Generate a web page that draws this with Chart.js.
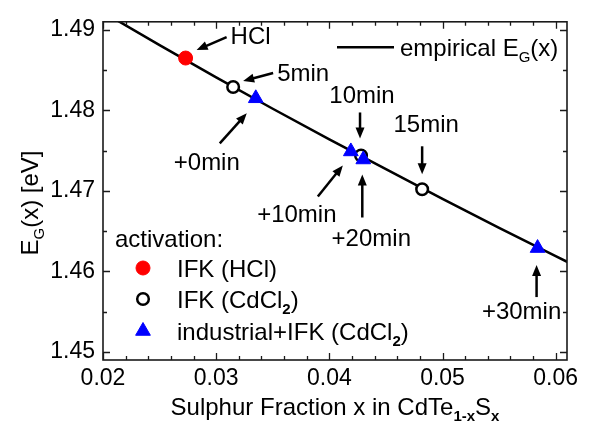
<!DOCTYPE html>
<html>
<head>
<meta charset="utf-8">
<script src="https://cdn.jsdelivr.net/npm/chart.js@4.4.1/dist/chart.umd.min.js"></script>
<style>
  html, body { margin: 0; padding: 0; background: #fff; }
  #wrap { width: 589px; height: 428px; }
</style>
</head>
<body>
<div id="wrap"><canvas id="chart"></canvas></div>
<script>
// curva empírica E_G(x)
const lineX = [0.020, 0.025, 0.030, 0.035, 0.040, 0.045, 0.050, 0.055, 0.060, 0.062];
const lineY = [1.4922, 1.4881, 1.4841, 1.4802, 1.4764, 1.4727, 1.4690, 1.4654, 1.4619, 1.4605];

// IFK (HCl)
const hclX = [0.0273];
const hclY = [1.4865];
// IFK (CdCl2): 5, 10, 15 min
const cdX = [0.0315, 0.0428, 0.0482];
const cdY = [1.4829, 1.4744, 1.4702];
// industrial + IFK (CdCl2): +0, +10, +20, +30 min
const indX = [0.0335, 0.0419, 0.0430, 0.0584];
const indY = [1.4815, 1.4749, 1.4739, 1.4629];

// etiquetas de los ejes
const xTicks = [0.02, 0.03, 0.04, 0.05, 0.06];
const yTicks = [1.45, 1.46, 1.47, 1.48, 1.49];

const FONT = '"Liberation Sans", Arial, sans-serif';

const toPts = (xs, ys) => xs.map((x, i) => ({ x: x, y: ys[i] }));

// anotaciones: texto y flecha, desplazamientos en px respecto al punto
const notes = [
    { ds: 0, i: 0, text: 'HCl',    t: [65, -21],  from: [41, -21],  to: [11, -8] },
    { ds: 1, i: 0, text: '5min',   t: [70, -13],  from: [40, -14],  to: [10, -6] },
    { ds: 2, i: 0, text: '+0min',  t: [-49, 65],  from: [-36, 45],  to: [-9, 15] },
    { ds: 1, i: 1, text: '10min',  t: [1, -59],   from: [-1, -43],  to: [-1, -17] },
    { ds: 2, i: 1, text: '+10min', t: [-54, 64],  from: [-33, 45],  to: [-8, 14] },
    { ds: 2, i: 2, text: '+20min', t: [8, 80],    from: [-1, 58],   to: [-1, 15] },
    { ds: 1, i: 2, text: '15min',  t: [4, -64],   from: [0, -43],   to: [0, -15] },
    { ds: 2, i: 3, text: '+30min', t: [-16, 64],  from: [-1, 49],   to: [-1, 17] }
];

// texto con subíndices
function drawRuns(ctx, runs, x, y, align, size) {
    const subSize = Math.round(size * 0.62);
    let total = 0;
    runs.forEach(r => {
        ctx.font = r.sub ? (r.bold ? 'bold ' : '') + subSize + 'px ' + FONT : size + 'px ' + FONT;
        r.w = ctx.measureText(r.t).width;
        total += r.w;
    });
    let cx = align === 'center' ? x - total / 2 : x;
    ctx.textAlign = 'left';
    ctx.textBaseline = 'alphabetic';
    runs.forEach(r => {
        ctx.font = r.sub ? (r.bold ? 'bold ' : '') + subSize + 'px ' + FONT : size + 'px ' + FONT;
        ctx.fillText(r.t, cx, r.sub ? y + size * 0.27 : y);
        cx += r.w;
    });
}

function arrow(ctx, x0, y0, x1, y1) {
    const a = Math.atan2(y1 - y0, x1 - x0);
    const hl = 11, hw = 4.5;
    ctx.beginPath();
    ctx.moveTo(x0, y0);
    ctx.lineTo(x1 - Math.cos(a) * hl * 0.8, y1 - Math.sin(a) * hl * 0.8);
    ctx.stroke();
    ctx.beginPath();
    ctx.moveTo(x1, y1);
    ctx.lineTo(x1 - Math.cos(a) * hl - Math.sin(a) * hw, y1 - Math.sin(a) * hl + Math.cos(a) * hw);
    ctx.lineTo(x1 - Math.cos(a) * hl + Math.sin(a) * hw, y1 - Math.sin(a) * hl - Math.cos(a) * hw);
    ctx.closePath();
    ctx.fill();
}

const decorPlugin = {
    id: 'decor',
    afterDatasetsDraw(chart) {
        const ctx = chart.ctx;
        const area = chart.chartArea;
        const xs = chart.scales.x, ys = chart.scales.y;
        ctx.save();

        // marco
        ctx.strokeStyle = '#1a1a1a';
        ctx.lineWidth = 1.6;
        ctx.strokeRect(area.left, area.top, area.right - area.left, area.bottom - area.top);

        // marcas hacia dentro, en los cuatro lados
        ctx.lineWidth = 1.3;
        ctx.beginPath();
        for (let k = 0; k <= 20; k++) {
            const v = 0.02 + k * 0.002;
            if (v > xs.max + 1e-9) break;
            const px = Math.round(xs.getPixelForValue(v)) + 0.5;
            const len = k % 5 === 0 ? 7 : 4;
            ctx.moveTo(px, area.bottom); ctx.lineTo(px, area.bottom - len);
            ctx.moveTo(px, area.top); ctx.lineTo(px, area.top + len);
        }
        for (let k = 0; k <= 10; k++) {
            const v = 1.45 + k * 0.005;
            if (v > ys.max + 1e-9) break;
            const py = Math.round(ys.getPixelForValue(v)) + 0.5;
            const len = k % 2 === 0 ? 7 : 4;
            ctx.moveTo(area.left, py); ctx.lineTo(area.left + len, py);
            ctx.moveTo(area.right, py); ctx.lineTo(area.right - len, py);
        }
        ctx.stroke();

        // flechas y textos
        ctx.fillStyle = '#000';
        ctx.strokeStyle = '#000';
        ctx.lineWidth = 2.5;
        notes.forEach(n => {
            const el = chart.getDatasetMeta(n.ds).data[n.i];
            arrow(ctx, el.x + n.from[0], el.y + n.from[1], el.x + n.to[0], el.y + n.to[1]);
            ctx.font = '24px ' + FONT;
            ctx.textAlign = 'center';
            ctx.textBaseline = 'middle';
            ctx.fillText(n.text, el.x + n.t[0], el.y + n.t[1]);
        });

        // leyenda de la curva
        ctx.lineWidth = 2.5;
        ctx.beginPath();
        ctx.moveTo(area.left + 234, area.top + 25.5);
        ctx.lineTo(area.left + 291, area.top + 25.5);
        ctx.stroke();
        drawRuns(ctx, [{ t: 'empirical E' }, { t: 'G', sub: true }, { t: '(x)' }],
            area.left + 297, area.top + 34, 'left', 24);

        // leyenda de activación
        const lx = area.left + 12, mx = area.left + 40, tx = area.left + 74;
        ctx.fillStyle = '#000';
        ctx.font = '24px ' + FONT;
        ctx.textAlign = 'left';
        ctx.textBaseline = 'middle';
        ctx.fillText('activation:', lx, 240);
        const rows = [
            { ds: 0, y: 268, runs: [{ t: 'IFK (HCl)' }] },
            { ds: 1, y: 299, runs: [{ t: 'IFK (CdCl' }, { t: '2', sub: true, bold: true }, { t: ')' }] },
            { ds: 2, y: 331, runs: [{ t: 'industrial+IFK (CdCl' }, { t: '2', sub: true, bold: true }, { t: ')' }] }
        ];
        rows.forEach(r => {
            const d = chart.data.datasets[r.ds];
            ctx.fillStyle = d.backgroundColor;
            ctx.strokeStyle = d.borderColor;
            ctx.lineWidth = d.borderWidth;
            Chart.helpers.drawPoint(ctx, { pointStyle: d.pointStyle, radius: d.pointRadius, borderWidth: d.borderWidth }, mx, r.y);
            ctx.fillStyle = '#000';
            drawRuns(ctx, r.runs, tx, r.y + 8.5, 'left', 24);
        });

        // títulos de los ejes
        ctx.fillStyle = '#000';
        drawRuns(ctx, [{ t: 'Sulphur Fraction x in CdTe' }, { t: '1-x', sub: true, bold: true },
            { t: 'S' }, { t: 'x', sub: true, bold: true }], (area.left + area.right) / 2, 415, 'center', 24);
        ctx.save();
        ctx.translate(38, 203);
        ctx.rotate(-Math.PI / 2);
        drawRuns(ctx, [{ t: 'E' }, { t: 'G', sub: true }, { t: '(x) [eV]' }], 0, 0, 'center', 24);
        ctx.restore();

        ctx.restore();
    }
};

const ctx = document.getElementById('chart').getContext('2d');
new Chart(ctx, {
    type: 'scatter',
    data: {
        datasets: [
            {
                label: 'IFK (HCl)',
                data: toPts(hclX, hclY),
                pointStyle: 'circle',
                pointRadius: 7,
                backgroundColor: '#ff0000',
                borderColor: '#ff0000',
                borderWidth: 1,
                order: 1
            },
            {
                label: 'IFK (CdCl2)',
                data: toPts(cdX, cdY),
                pointStyle: 'circle',
                pointRadius: 5.8,
                backgroundColor: '#ffffff',
                borderColor: '#000000',
                borderWidth: 2.5,
                order: 1
            },
            {
                label: 'industrial+IFK (CdCl2)',
                data: toPts(indX, indY),
                pointStyle: 'triangle',
                pointRadius: 8.5,
                backgroundColor: '#0000ff',
                borderColor: '#0000ff',
                borderWidth: 1,
                order: 0
            },
            {
                type: 'line',
                label: 'empirical EG(x)',
                data: toPts(lineX, lineY),
                borderColor: '#000',
                borderWidth: 2.5,
                pointRadius: 0,
                fill: false,
                tension: 0,
                order: 5
            }
        ]
    },
    options: {
        responsive: true,
        maintainAspectRatio: false,
        animation: false,
        events: [],
        layout: { padding: { left: 0, top: 9, right: 22, bottom: 0 } },
        plugins: {
            legend: { display: false },
            tooltip: { enabled: false }
        },
        scales: {
            x: {
                type: 'linear',
                min: 0.02,
                max: 0.061,
                grid: { display: false, drawTicks: false },
                border: { display: false },
                afterBuildTicks: s => { s.ticks = xTicks.map(v => ({ value: v })); },
                afterFit: s => { s.height = 68; },
                ticks: {
                    color: '#000',
                    padding: 5,
                    maxRotation: 0,
                    font: { family: FONT, size: 23 },
                    callback: v => v.toFixed(2)
                }
            },
            y: {
                type: 'linear',
                min: 1.449,
                max: 1.491,
                grid: { display: false, drawTicks: false },
                border: { display: false },
                afterBuildTicks: s => { s.ticks = yTicks.map(v => ({ value: v })); },
                afterFit: s => { s.width = 103; },
                ticks: {
                    color: '#000',
                    padding: 8,
                    font: { family: FONT, size: 23 },
                    callback: v => v.toFixed(2)
                }
            }
        }
    },
    plugins: [decorPlugin]
});
</script>
</body>
</html>
